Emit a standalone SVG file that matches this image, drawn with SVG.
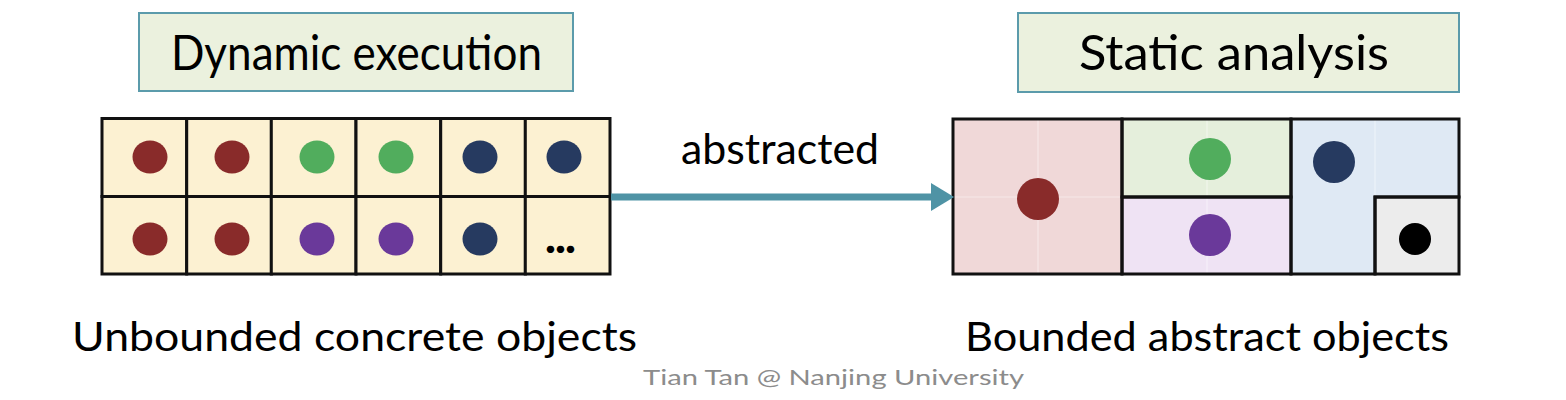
<svg xmlns="http://www.w3.org/2000/svg" width="1566" height="400" viewBox="0 0 1566 400">
<defs>
<style>
.t{font-family:Lato,"Liberation Sans",sans-serif;fill:#000;}
.title{fill:#ebf1de;stroke:#5b9bab;stroke-width:2;}
.cell{fill:#fcf1d2;stroke:#111;stroke-width:3;}
.bd{fill:none;stroke:#111;stroke-width:3;}
.faint{stroke:#ffffff;stroke-opacity:0.45;stroke-width:1.2;}
.red{fill:#892b2a;}
.grn{fill:#51ad5d;}
.nvy{fill:#263a60;}
.pur{fill:#6a399a;}
.foot{font-family:Lato,"Open Sans",sans-serif;fill:#8c8c8c;}
</style>
<marker id="ah" markerWidth="4" markerHeight="4" refX="0" refY="2" orient="auto" markerUnits="strokeWidth" viewBox="0 0 4 4"><path d="M0,0 L3.3,2 L0,4 Z" fill="#4f93a5"/></marker>
</defs>
<rect width="1566" height="400" fill="#ffffff"/>

<g id="title-dynamic">
<rect class="title" x="139" y="13" width="434" height="78"/>
<text class="t" x="171" y="70" font-size="49" textLength="371" lengthAdjust="spacingAndGlyphs">Dynamic execution</text>
</g>

<g id="title-static">
<rect class="title" x="1018" y="13" width="441" height="79"/>
<text class="t" x="1079" y="70" font-size="49" textLength="310" lengthAdjust="spacingAndGlyphs">Static analysis</text>
</g>

<g id="concrete-objects">
<rect class="cell" x="102" y="118.5" width="84.7" height="78"/>
<rect class="cell" x="186.7" y="118.5" width="84.7" height="78"/>
<rect class="cell" x="271.3" y="118.5" width="84.7" height="78"/>
<rect class="cell" x="356" y="118.5" width="84.7" height="78"/>
<rect class="cell" x="440.7" y="118.5" width="84.7" height="78"/>
<rect class="cell" x="525.3" y="118.5" width="84.7" height="78"/>
<rect class="cell" x="102" y="196.5" width="84.7" height="77.5"/>
<rect class="cell" x="186.7" y="196.5" width="84.7" height="77.5"/>
<rect class="cell" x="271.3" y="196.5" width="84.7" height="77.5"/>
<rect class="cell" x="356" y="196.5" width="84.7" height="77.5"/>
<rect class="cell" x="440.7" y="196.5" width="84.7" height="77.5"/>
<rect class="cell" x="525.3" y="196.5" width="84.7" height="77.5"/>
<ellipse class="red" cx="150" cy="157" rx="17.5" ry="16.5"/>
<ellipse class="red" cx="232" cy="157" rx="17.5" ry="16.5"/>
<ellipse class="grn" cx="317" cy="157" rx="17.5" ry="16.5"/>
<ellipse class="grn" cx="396" cy="157" rx="17.5" ry="16.5"/>
<ellipse class="nvy" cx="480" cy="157" rx="17.5" ry="16.5"/>
<ellipse class="nvy" cx="564" cy="157" rx="17.5" ry="16.5"/>
<ellipse class="red" cx="150" cy="239" rx="17.5" ry="16.5"/>
<ellipse class="red" cx="232" cy="239" rx="17.5" ry="16.5"/>
<ellipse class="pur" cx="317" cy="239" rx="17.5" ry="16.5"/>
<ellipse class="pur" cx="396" cy="239" rx="17.5" ry="16.5"/>
<ellipse class="nvy" cx="480" cy="239" rx="17.5" ry="16.5"/>
<text class="t" x="545" y="253" font-size="46" font-weight="900" textLength="31" lengthAdjust="spacing">...</text>
</g>

<g id="abstract-objects">
<rect x="953" y="119" width="169" height="155" fill="#f0d8d8"/>
<rect x="1122" y="119" width="169" height="78" fill="#e5efdc"/>
<rect x="1122" y="197" width="169" height="77" fill="#efe3f4"/>
<path d="M1291 119 H1459 V197 H1375 V274 H1291 Z" fill="#dfe9f4"/>
<rect x="1375" y="197" width="84" height="77" fill="#ececec"/>
<line class="faint" x1="1038" y1="119" x2="1038" y2="274"/>
<line class="faint" x1="953" y1="197" x2="1122" y2="197"/>
<line class="faint" x1="1207" y1="119" x2="1207" y2="274"/>
<line class="faint" x1="1375" y1="119" x2="1375" y2="197"/>
<rect class="bd" x="953" y="119" width="169" height="155"/>
<rect class="bd" x="1122" y="119" width="169" height="78"/>
<rect class="bd" x="1122" y="197" width="169" height="77"/>
<path class="bd" d="M1291 119 H1459 V197 H1375 V274 H1291 Z"/>
<rect class="bd" x="1375" y="197" width="84" height="77"/>
<circle class="red" cx="1038" cy="199" r="21"/>
<circle class="grn" cx="1210" cy="159" r="21"/>
<circle class="pur" cx="1210" cy="235" r="21"/>
<circle class="nvy" cx="1334" cy="162" r="21"/>
<circle cx="1415" cy="239" r="16" fill="#000"/>
</g>

<g id="connectors">
<line x1="611" y1="197" x2="931" y2="197" stroke="#4f93a5" stroke-width="7" marker-end="url(#ah)"/>
<text class="t" x="780" y="164" font-size="43" text-anchor="middle" textLength="198" lengthAdjust="spacingAndGlyphs">abstracted</text>
</g>

<g id="label-unbounded">
<text class="t" x="72" y="351" font-size="41" textLength="565" lengthAdjust="spacingAndGlyphs">Unbounded concrete objects</text>
</g>
<g id="label-bounded">
<text class="t" x="965" y="351" font-size="41" textLength="484" lengthAdjust="spacingAndGlyphs">Bounded abstract objects</text>
</g>
<g id="footer">
<text class="foot" x="643" y="385" font-size="22" textLength="381" lengthAdjust="spacingAndGlyphs">Tian Tan @ Nanjing University</text>
</g>
</svg>
